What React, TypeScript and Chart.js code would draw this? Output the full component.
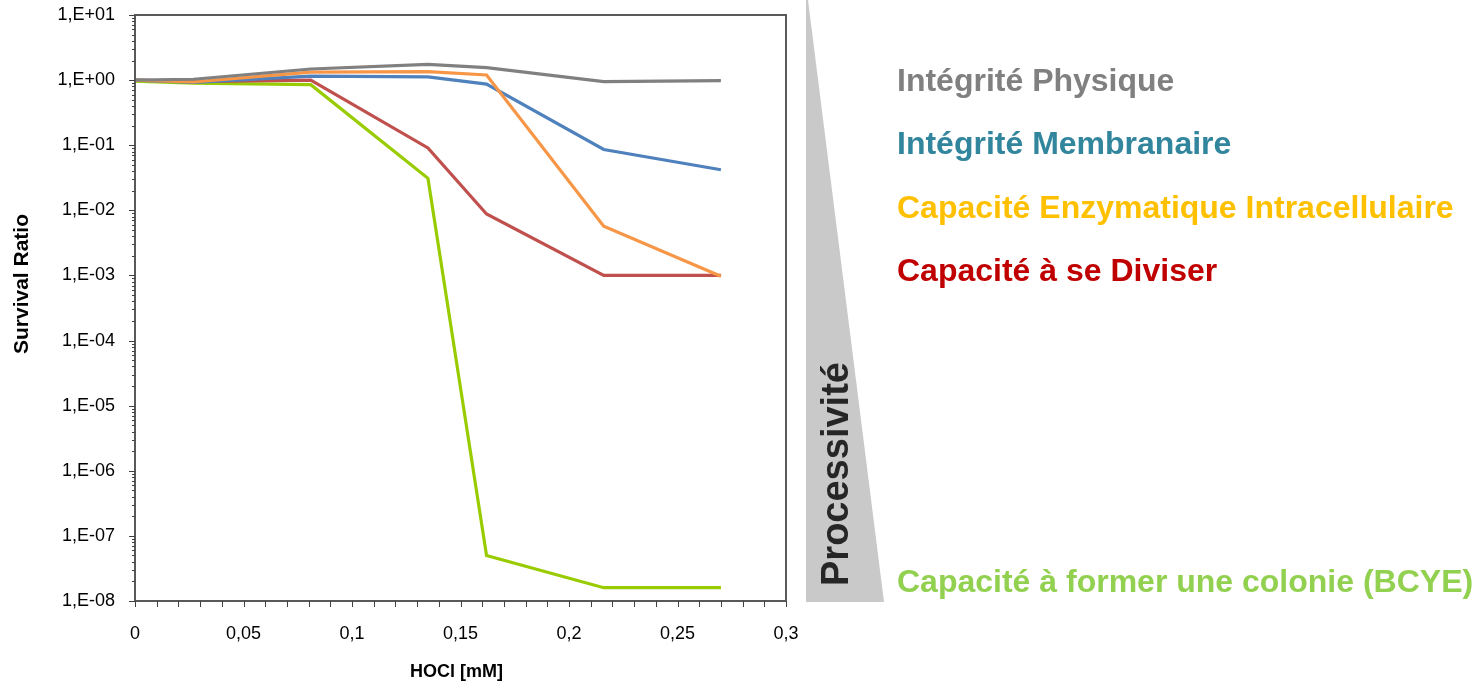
import React, { useEffect, useRef } from "react";
import { Chart, registerables } from "chart.js";

Chart.register(...registerables);

// ---- data ----
const X_VALUES = [0, 0.027, 0.081, 0.135, 0.162, 0.216, 0.27];
const INTEGRITE_PHYSIQUE = [1.0, 1.03, 1.48, 1.75, 1.55, 0.95, 0.98];
const CAPACITE_ENZYMATIQUE = [1.0, 0.94, 1.33, 1.35, 1.2, 0.0057, 0.00097];
const INTEGRITE_MEMBRANAIRE = [1.0, 0.92, 1.15, 1.12, 0.87, 0.086, 0.042];
const CAPACITE_DIVISER = [1.0, 0.95, 1.0, 0.091, 0.0088, 0.001, 0.001];
const CAPACITE_COLONIE = [0.96, 0.9, 0.85, 0.031, 5.0e-8, 1.6e-8, 1.6e-8];

const SERIES_NAMES = [
  "Intégrité Physique",
  "Capacité Enzymatique Intracellulaire",
  "Intégrité Membranaire",
  "Capacité à se Diviser",
  "Capacité à former une colonie (BCYE)",
];
const SERIES_VALUES = [
  INTEGRITE_PHYSIQUE,
  CAPACITE_ENZYMATIQUE,
  INTEGRITE_MEMBRANAIRE,
  CAPACITE_DIVISER,
  CAPACITE_COLONIE,
];
const SERIES_COLORS = ["#808080", "#f79646", "#4f81bd", "#c0504d", "#99cc00"];

const Y_EXPONENTS = [1, 0, -1, -2, -3, -4, -5, -6, -7, -8];
const X_MIN = 0;
const X_MAX = 0.3;
const X_STEP = 0.05;
const X_MINOR_STEP = 0.01;

const LEGEND_LABELS = [
  "Intégrité Physique",
  "Intégrité Membranaire",
  "Capacité Enzymatique Intracellulaire",
  "Capacité à se Diviser",
  "Capacité à former une colonie (BCYE)",
];
const LEGEND_COLORS = ["#808080", "#31859c", "#ffc000", "#c00000", "#92d050"];
const LEGEND_BASELINES = [91, 154, 218, 281, 592];

const Y_TITLE = "Survival Ratio";
const X_TITLE = "HOCl [mM]";
const SIDE_TITLE = "Processivité";

const FONT = "'Liberation Sans', Arial, Helvetica, sans-serif";

function isPow10(v: number) {
  const e = Math.log10(v);
  return Math.abs(e - Math.round(e)) < 1e-9;
}
function fmtExp(v: number) {
  const e = Math.round(Math.log10(v));
  const sign = e < 0 ? "-" : "+";
  const a = Math.abs(e);
  return "1,E" + sign + (a < 10 ? "0" + a : String(a));
}

const overlay = {
  id: "overlay",
  afterDraw(chart: any) {
    const { ctx, chartArea: a, scales } = chart;
    const xs = scales.x;
    const ys = scales.y;
    ctx.save();
    // frame
    ctx.strokeStyle = "#595959";
    ctx.lineWidth = 2;
    ctx.strokeRect(a.left, a.top, a.right - a.left, a.bottom - a.top);

    // tick marks
    ctx.lineWidth = 1;
    ctx.strokeStyle = "#404040";
    ctx.beginPath();
    const nX = Math.round((X_MAX - X_MIN) / X_MINOR_STEP);
    for (let i = 0; i <= nX; i++) {
      const px = Math.round(xs.getPixelForValue(X_MIN + i * X_MINOR_STEP)) + 0.5;
      ctx.moveTo(px, a.bottom);
      ctx.lineTo(px, a.bottom + 6);
    }
    const minE = Math.min(...Y_EXPONENTS);
    const maxE = Math.max(...Y_EXPONENTS);
    for (let e = minE; e <= maxE; e++) {
      for (let m = 1; m <= 9; m++) {
        if (e === maxE && m > 1) break;
        const v = m * Math.pow(10, e);
        const py = Math.round(ys.getPixelForValue(v)) + 0.5;
        const len = m === 1 ? 6 : 3;
        ctx.moveTo(a.left, py);
        ctx.lineTo(a.left - len, py);
      }
    }
    ctx.stroke();

    // axis titles
    ctx.fillStyle = "#000000";
    ctx.font = "bold 18px " + FONT;
    ctx.textAlign = "center";
    ctx.textBaseline = "alphabetic";
    ctx.fillText(X_TITLE, (a.left + a.right) / 2 - 4, 677);

    ctx.save();
    ctx.translate(28, 284);
    ctx.rotate(-Math.PI / 2);
    ctx.font = "bold 21px " + FONT;
    ctx.fillText(Y_TITLE, 0, 0);
    ctx.restore();

    // triangle
    ctx.fillStyle = "#c9c9c9";
    ctx.beginPath();
    ctx.moveTo(806, 0);
    ctx.lineTo(808, 0);
    ctx.lineTo(884, 602);
    ctx.lineTo(806, 602);
    ctx.closePath();
    ctx.fill();

    ctx.save();
    ctx.translate(848, 586);
    ctx.rotate(-Math.PI / 2);
    ctx.fillStyle = "#262626";
    ctx.font = "bold 38px " + FONT;
    ctx.textAlign = "left";
    ctx.fillText(SIDE_TITLE, 0, 0);
    ctx.restore();

    // legend texts
    ctx.font = "bold 32px " + FONT;
    ctx.textAlign = "left";
    LEGEND_LABELS.forEach((t, i) => {
      ctx.fillStyle = LEGEND_COLORS[i];
      ctx.fillText(t, 897, LEGEND_BASELINES[i]);
    });
    ctx.restore();
  },
};

export default function App() {
  const ref = useRef<HTMLCanvasElement | null>(null);
  useEffect(() => {
    document.body.style.margin = "0";
    const canvas = ref.current!;
    const yTicks: number[] = [];
    const minE = Math.min(...Y_EXPONENTS);
    const maxE = Math.max(...Y_EXPONENTS);
    for (let e = minE; e <= maxE; e++) yTicks.push(Math.pow(10, e));

    const chart = new Chart(canvas, {
      type: "line",
      data: {
        datasets: SERIES_VALUES.map((vals, i) => ({
          label: SERIES_NAMES[i],
          data: vals.map((v, j) => ({ x: X_VALUES[j], y: v })),
          borderColor: SERIES_COLORS[i],
          backgroundColor: SERIES_COLORS[i],
          borderWidth: 3.2,
          pointRadius: 0,
          tension: 0,
          fill: false,
        })),
      },
      options: {
        animation: false,
        responsive: false,
        maintainAspectRatio: false,
        layout: { padding: { left: 0, top: 15, right: 693, bottom: 0 } },
        plugins: {
          legend: { display: false },
          tooltip: { enabled: false },
          title: { display: false },
        },
        scales: {
          x: {
            type: "linear",
            min: X_MIN,
            max: X_MAX,
            grid: { display: false, drawTicks: false },
            border: { display: false },
            ticks: {
              stepSize: X_STEP,
              padding: 22,
              color: "#000000",
              font: { family: FONT, size: 18 },
              maxRotation: 0,
              autoSkip: false,
              callback: (v: any) =>
                String(parseFloat(Number(v).toFixed(3))).replace(".", ","),
            },
            afterFit: (s: any) => {
              s.height = 80;
              s.paddingLeft = 0;
              s.paddingRight = 0;
            },
          },
          y: {
            type: "logarithmic",
            min: Math.pow(10, minE),
            max: Math.pow(10, maxE),
            grid: { display: false, drawTicks: false },
            border: { display: false },
            afterBuildTicks: (s: any) => {
              s.ticks = yTicks.map((v) => ({ value: v, major: true }));
            },
            ticks: {
              padding: 20,
              color: "#000000",
              autoSkip: false,
              font: { family: FONT, size: 18 },
              callback: (v: any) => (isPow10(Number(v)) ? fmtExp(Number(v)) : ""),
            },
            afterFit: (s: any) => {
              s.width = 135;
              s.paddingTop = 0;
              s.paddingBottom = 0;
            },
          },
        },
      },
      plugins: [overlay],
    });
    return () => chart.destroy();
  }, []);
  return (
    <canvas
      ref={ref}
      width={1479}
      height={681}
      style={{ display: "block", width: 1479, height: 681 }}
    />
  );
}
